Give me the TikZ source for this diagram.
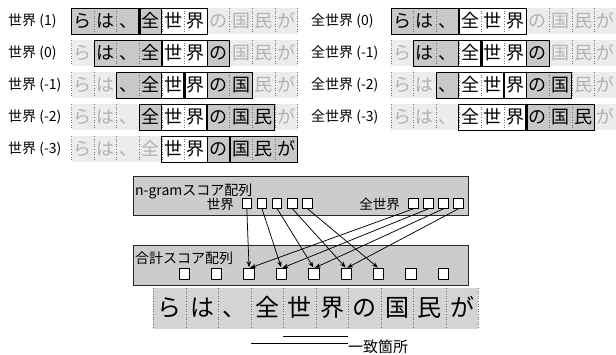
\documentclass[tikz,border=0pt]{standalone}
\usepackage{fontspec}
\setmainfont{Noto Sans CJK JP}
\usetikzlibrary{arrows.meta}
\definecolor{lightbg}{gray}{0.925}
\definecolor{wingray}{gray}{0.785}
\definecolor{lighttext}{gray}{0.7}
\definecolor{boxgray}{gray}{0.8}
\definecolor{stripgray}{gray}{0.83}
\definecolor{dotcol}{gray}{0.45}
\tikzset{
 chr/.style={anchor=base, inner sep=0pt, font=\fontsize{18}{20}\selectfont},
 bigchr/.style={anchor=base, inner sep=0pt, font=\fontsize{24}{26}\selectfont},
 lbl/.style={anchor=base west, inner sep=0pt, font=\fontsize{14}{16}\selectfont},
 sep/.style={dotted, draw=dotcol, line width=0.6pt},
 winbox/.style={draw=black, line width=0.9pt},
 posline/.style={line width=2.4pt},
 panel/.style={fill=boxgray, draw=black!85, line width=1pt},
 sq/.style={draw=black, fill=white, line width=1pt, minimum size=#1, inner sep=0pt},
 arr/.style={-{Stealth[length=6pt,width=4.5pt]}, line width=0.75pt, shorten >=1pt},
 uline/.style={line width=1.2pt},
}
\newcommand\cw{22.6}
\newcommand\rh{26}
% #1 label x, #2 strip x0, #3 y0, #4 position p, #5 ngram start, #6 ngram end, #7 name, #8 label
\newcommand\rowstrip[8]{%
  \node[lbl] (#7-lbl) at (#1,{#3+17.5}) {#8};
  \begin{scope}[shift={(#2,#3)}]
  \fill[lightbg] (0,0) rectangle ({10*\cw},\rh);
  \fill[wingray] ({(#4-3)*\cw},0) rectangle ({(#4+3)*\cw},\rh);
  \fill[white] ({#5*\cw},0) rectangle ({(#6+1)*\cw},\rh);
  \foreach \i in {0,...,10} \draw[sep] ({\i*\cw},0) -- ({\i*\cw},\rh);
  \draw[winbox] ({(#4-3)*\cw},0) rectangle ({(#4+3)*\cw},\rh);
  \draw[winbox] ({#5*\cw},0) rectangle ({(#6+1)*\cw},\rh);
  \draw[posline] ({#4*\cw},0) -- ({#4*\cw},\rh);
  \foreach \c [count=\k from 0] in {ら,は,、,全,世,界,の,国,民,が}{
    \pgfmathtruncatemacro\inwin{(\k>=#4-3)&&(\k<=#4+2)}
    \ifnum\inwin=1 \def\tc{black}\else\def\tc{lighttext}\fi
    \node[chr, text=\tc] (#7-\k) at ({(\k+0.5)*\cw},19.6) {\c};
  }
  \end{scope}
}
\begin{document}
\begin{tikzpicture}[x=1pt,y=-1pt]
\useasboundingbox (0,0) rectangle (616,354);
% left column
\rowstrip{8}{71.5}{8}{3}{4}{5}{wa}{世界 (1)}
\rowstrip{8}{71.5}{40}{4}{4}{5}{wb}{世界 (0)}
\rowstrip{8}{71.5}{72}{5}{4}{5}{wc}{世界 (-1)}
\rowstrip{8}{71.5}{104}{6}{4}{5}{wd}{世界 (-2)}
\rowstrip{8}{71.5}{136}{7}{4}{5}{we}{世界 (-3)}
% right column
\rowstrip{311}{391}{8}{3}{3}{5}{za}{全世界 (0)}
\rowstrip{311}{391}{40}{4}{3}{5}{zb}{全世界 (-1)}
\rowstrip{311}{391}{72}{5}{3}{5}{zc}{全世界 (-2)}
\rowstrip{311}{391}{104}{6}{3}{5}{zd}{全世界 (-3)}

% n-gram score panel
\draw[panel] (133,176) rectangle (468,215.5);
\node[lbl] (ngl) at (135,195.5) {n-gramスコア配列};
\node[lbl, anchor=base east, font=\fontsize{13.5}{15}\selectfont] (wl) at (234,209) {世界};
\node[lbl, anchor=base east, font=\fontsize{13.5}{15}\selectfont] (tl) at (400,209) {全世界};
\foreach \i in {0,...,4} \node[sq=9.5pt] (ws\i) at ({246.8+15.2*\i},203.5) {};
\foreach \i in {0,...,3} \node[sq=9.5pt] (ts\i) at ({413.5+15*\i},203.5) {};

% total score panel
\draw[panel] (133,245.5) rectangle (468,285.5);
\node[lbl] (sl) at (135,263) {合計スコア配列};
\foreach \i in {0,...,8} \node[sq=10.5pt] (sum\i) at ({184.3+32.4*\i},274) {};

% arrows
\foreach \i [evaluate=\i as \j using int(\i+2)] in {0,...,4} \draw[arr] (ws\i.south) -- (sum\j.north);
\foreach \i [evaluate=\i as \j using int(\i+2)] in {0,...,3} \draw[arr] (ts\i.south) -- (sum\j.north);

% bottom text strip
\fill[stripgray] (153.3,288) rectangle (478.3,328.5);
\foreach \i in {0,...,10} \draw[sep] ({153.3+32.5*\i},288) -- ({153.3+32.5*\i},328.5);
\foreach \c [count=\k from 0] in {ら,は,、,全,世,界,の,国,民,が}
  \node[bigchr] (b\k) at ({153.3+32.5*(\k+0.5)},316.5) {\c};

% match underlines
\node[anchor=base west, inner sep=0pt, font=\fontsize{15}{17}\selectfont] (match) at (348,352.5) {一致箇所};
\coordinate (u1a) at (283.3,336.7);
\coordinate (u1b) at (348.3,336.7);
\coordinate (u2a) at (251,343.3);
\coordinate (u2b) at (348.3,343.3);
\draw[uline] (u1a) -- (u1b);
\draw[uline] (u2a) -- (u2b);
\end{tikzpicture}
\end{document}
